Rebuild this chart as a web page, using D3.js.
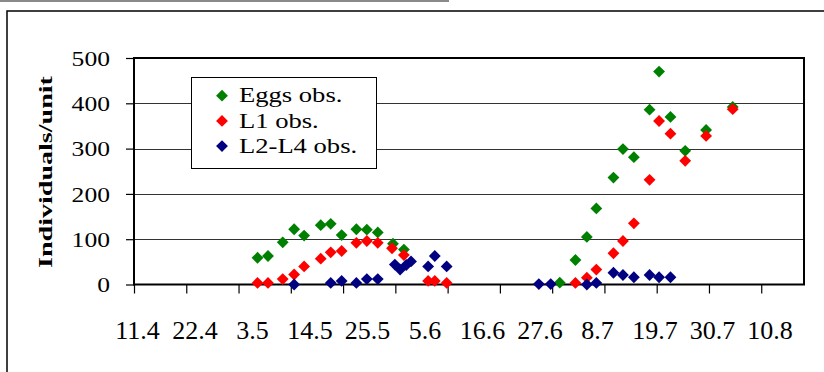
<!DOCTYPE html>

<head>
  <meta charset="utf-8">
  <script src="https://d3js.org/d3.v7.min.js"></script>
  <style>
    body { margin: 0; background: #fff; }
  </style>
</head>

<body>
  <script>
    // x values are days counted from 11.4
    var tickLabels = ["11.4", "22.4", "3.5", "14.5", "25.5", "5.6", "16.6", "27.6", "8.7", "19.7", "30.7", "10.8"];
    var yTicks = [0, 100, 200, 300, 400, 500];

    var eggDays = [26, 28.2, 31.3, 33.7, 35.8, 39.3, 41.4, 43.7, 46.8, 49, 51.3, 54.5, 56.8,
      89.6, 92.9, 95.3, 97.3, 100.9, 102.9, 105.2, 108.5, 110.5, 112.9, 116, 120.4, 126];
    var eggValues = [59, 63, 93, 122, 108, 131, 134, 109, 122, 121, 115, 90, 77,
      4, 54, 105, 168, 236, 299, 281, 386, 470, 370, 295, 341, 392];

    var l1Days = [26, 28.2, 31.3, 33.7, 35.8, 39.3, 41.4, 43.7, 46.8, 49, 51.3, 54.3, 56.8,
      61.9, 63.3, 65.8, 92.9, 95.3, 97.3, 100.9, 102.9, 105.2, 108.5, 110.5, 112.9, 116, 120.4, 126];
    var l1Values = [3.5, 3.5, 12, 22, 40, 57, 71, 74, 92, 96, 92, 80, 65,
      8, 8, 3.5, 3.5, 15, 33, 69, 96, 135, 231, 361, 333, 273, 328, 387];

    var l2Days = [33.7, 41.4, 43.7, 46.8, 49, 51.3, 54.9, 56, 57.3, 58.3,
      61.9, 63.3, 65.8, 85.2, 87.7, 95.3, 97.3, 100.9, 102.9, 105.2, 108.5, 110.5, 112.9];
    var l2Values = [0, 3.5, 8, 3.5, 12, 12, 44, 33, 43, 51,
      40, 63, 40, 1, 1, 0, 3.5, 26, 21, 16, 21, 16, 16];

    var seriesNames = ["Eggs obs.", "L1 obs.", "L2-L4 obs."];
    var seriesColors = ["#008000", "#ff0000", "#000080"];

    var serif = '"Liberation Serif", "Times New Roman", serif';

    var width = 824, height = 372;
    var plot = { left: 134, right: 804, top: 58, bottom: 284.5 };

    var x = d3.scaleLinear().domain([0, 141]).range([plot.left, plot.right]);
    var y = d3.scaleLinear().domain([0, 500]).range([plot.bottom, plot.top]);
    // tick labels are spread a little wider than the ticks in the original
    var xLab = d3.scaleLinear().domain([0, 11]).range([137.5, 770]);

    var svg = d3.select('body').append('svg')
      .attr('width', width)
      .attr('height', height)
      .attr('font-family', serif);

    // page line and outer frame
    svg.append('line')
      .attr('x1', 0).attr('x2', 449).attr('y1', 1).attr('y2', 1)
      .attr('stroke', '#8a8a8a').attr('stroke-width', 2);
    svg.append('rect')
      .attr('x', 7).attr('y', 11).attr('width', 840).attr('height', 400)
      .attr('fill', 'none').attr('stroke', '#000').attr('stroke-width', 1.5);

    // gridlines
    svg.append('g')
      .selectAll('line')
      .data(yTicks.slice(1, -1))
      .enter().append('line')
      .attr('x1', plot.left).attr('x2', plot.right)
      .attr('y1', d => Math.round(y(d)) + 0.5)
      .attr('y2', d => Math.round(y(d)) + 0.5)
      .attr('stroke', '#333').attr('stroke-width', 1);

    // y axis
    var yAxis = svg.append('g')
      .attr('transform', 'translate(' + plot.left + ',0)')
      .call(d3.axisLeft(y).tickValues(yTicks).tickSize(8));
    yAxis.attr('font-family', serif).attr('font-size', 21);
    yAxis.select('.domain').remove();
    yAxis.selectAll('line').attr('stroke', '#000').attr('stroke-width', 1.2);
    // the original text is drawn a bit wide
    yAxis.selectAll('text')
      .attr('x', 0)
      .attr('dy', '0.34em')
      .attr('transform', 'translate(-24,0) scale(1.22,1)')
      .attr('fill', '#000');

    // x axis ticks
    var xAxis = svg.append('g')
      .attr('transform', 'translate(0,' + plot.bottom + ')')
      .call(d3.axisBottom(x).tickValues(d3.range(0, 133, 11)).tickSize(9).tickFormat(''));
    xAxis.select('.domain').remove();
    xAxis.selectAll('line').attr('stroke', '#000').attr('stroke-width', 1.2);

    svg.append('g')
      .selectAll('text')
      .data(tickLabels)
      .enter().append('text')
      .attr('x', (d, i) => xLab(i))
      .attr('y', 339)
      .attr('text-anchor', 'middle')
      .attr('font-size', 26)
      .text(d => d);

    // plot border
    svg.append('rect')
      .attr('x', plot.left).attr('y', plot.top)
      .attr('width', plot.right - plot.left)
      .attr('height', plot.bottom - plot.top)
      .attr('fill', 'none').attr('stroke', '#000').attr('stroke-width', 2);

    // y title
    svg.append('text')
      .attr('transform', 'translate(52,172) rotate(-90) scale(1.56,1)')
      .attr('text-anchor', 'middle')
      .attr('font-size', 18)
      .attr('font-weight', 'bold')
      .text('Individuals/unit');

    // markers
    var diamond = d3.symbol().type(d3.symbolSquare).size(70);
    var series = [
      d3.zip(eggDays, eggValues),
      d3.zip(l1Days, l1Values),
      d3.zip(l2Days, l2Values)
    ];
    series.forEach(function(pts, k) {
      svg.append('g')
        .selectAll('path')
        .data(pts)
        .enter().append('path')
        .attr('d', diamond)
        .attr('transform', d => 'translate(' + x(d[0]) + ',' + y(d[1]) + ') rotate(45)')
        .attr('fill', seriesColors[k]);
    });

    // legend
    var legend = svg.append('g');
    legend.append('rect')
      .attr('x', 191.5).attr('y', 77.5).attr('width', 185).attr('height', 91)
      .attr('fill', '#fff').attr('stroke', '#000').attr('stroke-width', 1);
    var items = legend.selectAll('g.item')
      .data(seriesNames)
      .enter().append('g')
      .attr('class', 'item')
      .attr('transform', (d, i) => 'translate(222,' + (95.7 + i * 25.2) + ')');
    items.append('path')
      .attr('d', diamond)
      .attr('transform', 'rotate(45)')
      .attr('fill', (d, i) => seriesColors[i]);
    items.append('text')
      .attr('transform', 'translate(17,6.6) scale(1.33,1)')
      .attr('font-size', 20)
      .text(d => d);
  </script>
</body>
